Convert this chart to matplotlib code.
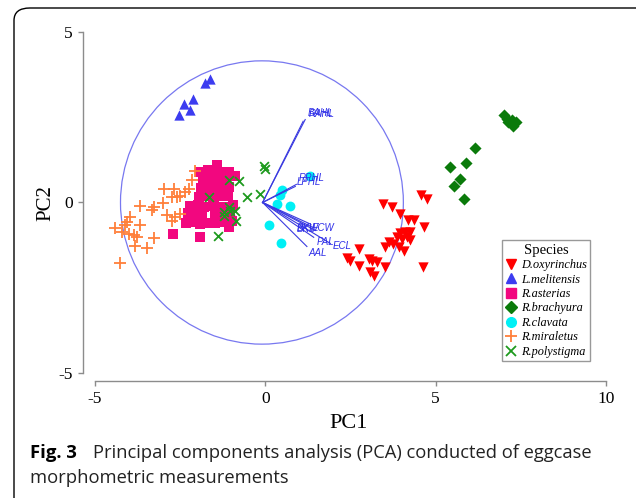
import matplotlib
matplotlib.use("Agg")
import matplotlib.pyplot as plt
from matplotlib.patches import Circle, FancyBboxPatch
from matplotlib.lines import Line2D

plt.rcParams["axes.unicode_minus"] = False

# ---------------- data ----------------
species = ["D.oxyrinchus", "L.melitensis", "R.asterias", "R.brachyura",
           "R.clavata", "R.miraletus", "R.polystigma"]

doxy_x = [4.57, 4.74, 3.45, 3.71, 3.94, 4.20, 4.35, 4.66, 3.96, 4.11, 4.25, 4.15, 3.86,
          4.01, 3.62, 3.76, 3.52, 4.25, 4.06, 3.91, 2.74, 2.40, 2.49, 2.74, 3.03, 3.13,
          3.27, 3.08, 3.18, 3.52, 4.64]
doxy_y = [0.23, 0.11, -0.04, -0.12, -0.33, -0.51, -0.51, -0.72, -0.90, -0.87, -0.87, -1.02,
          -1.02, -1.07, -1.16, -1.21, -1.31, -1.11, -1.41, -1.31, -1.36, -1.62, -1.70,
          -1.85, -1.65, -1.70, -1.75, -2.04, -2.14, -1.90, -1.90]

lmel_x = [-1.63, -1.78, -2.13, -2.38, -2.22, -2.52]
lmel_y = [3.61, 3.51, 3.04, 2.89, 2.72, 2.55]

rast_x = [-1.41, -1.91, -1.67, -1.47, -1.26, -1.06, -0.88, -1.82, -1.61, -1.38, -1.17,
          -1.88, -1.67, -1.47, -1.26, -1.06, -1.96, -1.73, -1.52, -1.29, -1.09, -2.20,
          -1.99, -1.79, -1.55, -1.35, -1.14, -0.94, -2.26, -2.05, -1.85, -1.47, -1.26,
          -1.03, -2.32, -2.11, -1.91, -1.70, -1.47, -1.26, -0.97, -2.71, -1.93, -1.08]
rast_y = [1.09, 0.88, 0.94, 0.85, 0.88, 0.88, 0.79, 0.65, 0.65, 0.67, 0.62, 0.41, 0.44,
          0.41, 0.38, 0.44, 0.15, 0.18, 0.15, 0.18, 0.18, -0.09, -0.06, -0.12, -0.09,
          -0.12, -0.12, -0.06, -0.32, -0.29, -0.35, -0.32, -0.35, -0.29, -0.59, -0.56,
          -0.62, -0.59, -0.59, -0.56, -0.53, -0.92, -1.02, -0.72]

rbra_x = [6.99, 7.09, 7.23, 7.36, 7.13, 7.28, 6.14, 5.89, 5.41, 5.72, 5.55, 5.82]
rbra_y = [2.55, 2.45, 2.43, 2.35, 2.35, 2.25, 1.59, 1.16, 1.04, 0.69, 0.47, 0.11]

rcla_x = [1.32, 0.49, 0.44, 0.34, 0.71, 0.10, 0.46]
rcla_y = [0.79, 0.37, 0.23, -0.04, -0.09, -0.67, -1.19]

rmir_x = [-2.05, -2.15, -2.25, -2.35, -2.98, -2.74, -2.59, -2.49, -3.00, -3.27, -3.67,
          -3.32, -2.88, -2.64, -2.49, -2.74, -3.96, -4.06, -4.11, -4.40, -4.20, -4.01,
          -3.86, -3.76, -3.67, -3.27, -3.81, -3.47, -4.25, -2.69]
rmir_y = [0.91, 0.67, 0.40, 0.32, 0.40, 0.16, 0.16, 0.19, -0.01, -0.14, -0.09, -0.23,
          -0.38, -0.43, -0.33, -0.53, -0.43, -0.58, -0.67, -0.75, -0.85, -0.92, -0.95,
          -1.02, -0.67, -1.05, -1.28, -1.34, -1.77, 0.40]

rpol_x = [-0.04, 0.00, -1.08, -0.78, -1.66, -0.54, -0.15, -1.08, -1.22, -1.03, -0.88,
          -1.22, -0.85, -1.40]
rpol_y = [1.06, 0.98, 0.65, 0.62, 0.16, 0.16, 0.26, -0.14, -0.28, -0.26, -0.26, -0.41,
          -0.53, -0.97]

# loading vectors (biplot arrows)
var_names = ["BAHL", "RAHL", "RPHL", "LPHL", "BKW", "BKL", "ECW", "PAL", "ECL", "AAL"]
var_x = [1.17, 1.11, 0.91, 0.88, 1.32, 1.37, 1.47, 1.42, 1.91, 1.22]
var_y = [2.43, 2.38, 0.53, 0.47, -0.63, -0.72, -0.82, -1.02, -1.20, -1.29]
lab_x = [1.24, 1.26, 0.98, 0.93, 0.91, 0.93, 1.37, 1.50, 1.99, 1.27]
lab_y = [2.61, 2.58, 0.72, 0.60, -0.74, -0.77, -0.74, -1.16, -1.28, -1.48]

circle_radius = 4.15
origin = (-0.08, 0.0)

# ---------------- figure ----------------
W, H = 636, 498
fig = plt.figure(figsize=(W / 100, H / 100), dpi=100)

# rounded frame
frame = FancyBboxPatch((14 / W, -0.2), 1.2, 1 - 8 / H + 0.2,
                       boxstyle="round,pad=0,rounding_size=0.025",
                       transform=fig.transFigure, fill=False,
                       edgecolor="black", linewidth=1.0, clip_on=False)
fig.patches.append(frame)

ax = fig.add_axes([83 / W, 1 - 381 / H, (615 - 83) / W, (381 - 25) / H])
ax.set_xlim(-5.35, 10.26)
ax.set_ylim(-5.23, 5.2)

serif = ["Liberation Serif", "DejaVu Serif"]

# circle
ax.add_patch(Circle((-0.1, 0.0), circle_radius, fill=False,
                    edgecolor="#7878F0", linewidth=0.9))

# arrows
for vx, vy in zip(var_x, var_y):
    ax.plot([origin[0], vx], [origin[1], vy], color="#3A3AE0", linewidth=0.8, zorder=3)
for name, tx, ty in zip(var_names, lab_x, lab_y):
    ax.text(tx, ty, name, color="#2F2FE8", fontsize=7, style="italic",
            family=["Liberation Sans", "DejaVu Sans"], ha="left", va="center", zorder=4)

# points
ax.scatter(doxy_x, doxy_y, marker="v", s=55, color="#FF0000", linewidths=0, zorder=2)
ax.scatter(lmel_x, lmel_y, marker="^", s=55, color="#3C3CF0", linewidths=0, zorder=2)
ax.scatter(rast_x, rast_y, marker="s", s=52, color="#F2077F", linewidths=0, zorder=2)
ax.scatter(rbra_x, rbra_y, marker="D", s=38, color="#0A7A0A", linewidths=0, zorder=2)
ax.scatter(rcla_x, rcla_y, marker="o", s=50, color="#00F0F5", linewidths=0, zorder=2)
ax.scatter(rmir_x, rmir_y, marker="+", s=70, color="#FF7F3A", linewidths=1.3, zorder=2)
ax.scatter(rpol_x, rpol_y, marker="x", s=40, color="#1E9A1E", linewidths=1.3, zorder=2)

# axes styling (R style detached axes)
for sp in ["top", "right"]:
    ax.spines[sp].set_visible(False)
ax.spines["left"].set_bounds(-5, 5)
ax.spines["bottom"].set_bounds(-5, 10)
for sp in ["left", "bottom"]:
    ax.spines[sp].set_color("#8C8C8C")
    ax.spines[sp].set_linewidth(1.0)
ax.set_xticks([-5, 0, 5, 10])
ax.set_yticks([-5, 0, 5])
ax.tick_params(axis="both", direction="out", length=3.5, width=1.0, color="#8C8C8C",
               labelsize=12.5, pad=4)
for lbl in ax.get_xticklabels() + ax.get_yticklabels():
    lbl.set_family(serif)
ax.set_xlabel("PC1", fontsize=16, family=serif, labelpad=5)
ax.set_ylabel("PC2", fontsize=15, family=serif, labelpad=2)

# legend
handles = [
    Line2D([], [], marker="v", color="#FF0000", linestyle="none", markersize=7),
    Line2D([], [], marker="^", color="#3C3CF0", linestyle="none", markersize=7),
    Line2D([], [], marker="s", color="#F2077F", linestyle="none", markersize=6.5),
    Line2D([], [], marker="D", color="#0A7A0A", linestyle="none", markersize=6),
    Line2D([], [], marker="o", color="#00F0F5", linestyle="none", markersize=7),
    Line2D([], [], marker="+", color="#FF7F3A", linestyle="none", markersize=9,
           markeredgewidth=1.3),
    Line2D([], [], marker="x", color="#1E9A1E", linestyle="none", markersize=7,
           markeredgewidth=1.3),
]
leg = ax.legend(handles, species, loc="upper left",
                bbox_to_anchor=(502 / W, 1 - 240 / H), bbox_transform=fig.transFigure,
                borderaxespad=0, frameon=True, fancybox=False,
                prop={"family": serif, "style": "italic", "size": 8.8},
                title="Species", title_fontproperties={"family": serif, "size": 10.5},
                handlelength=0.9, handletextpad=0.35, labelspacing=0.2,
                borderpad=0.3, markerscale=1.0)
leg.get_frame().set_edgecolor("#808080")
leg.get_frame().set_linewidth(1.0)

# caption
cap_font = ["Open Sans", "DejaVu Sans"]
fig.text(30 / W, 1 - 453 / H, "Fig. 3", fontsize=13.3, fontweight="bold",
         family=cap_font, ha="left", va="center")
fig.text(93 / W, 1 - 453 / H,
         "Principal components analysis (PCA) conducted of eggcase",
         fontsize=13.2, family=cap_font, ha="left", va="center", color="#222222")
fig.text(30 / W, 1 - 478 / H, "morphometric measurements",
         fontsize=13.2, family=cap_font, ha="left", va="center", color="#222222")

fig.savefig("out.png", dpi=100)
